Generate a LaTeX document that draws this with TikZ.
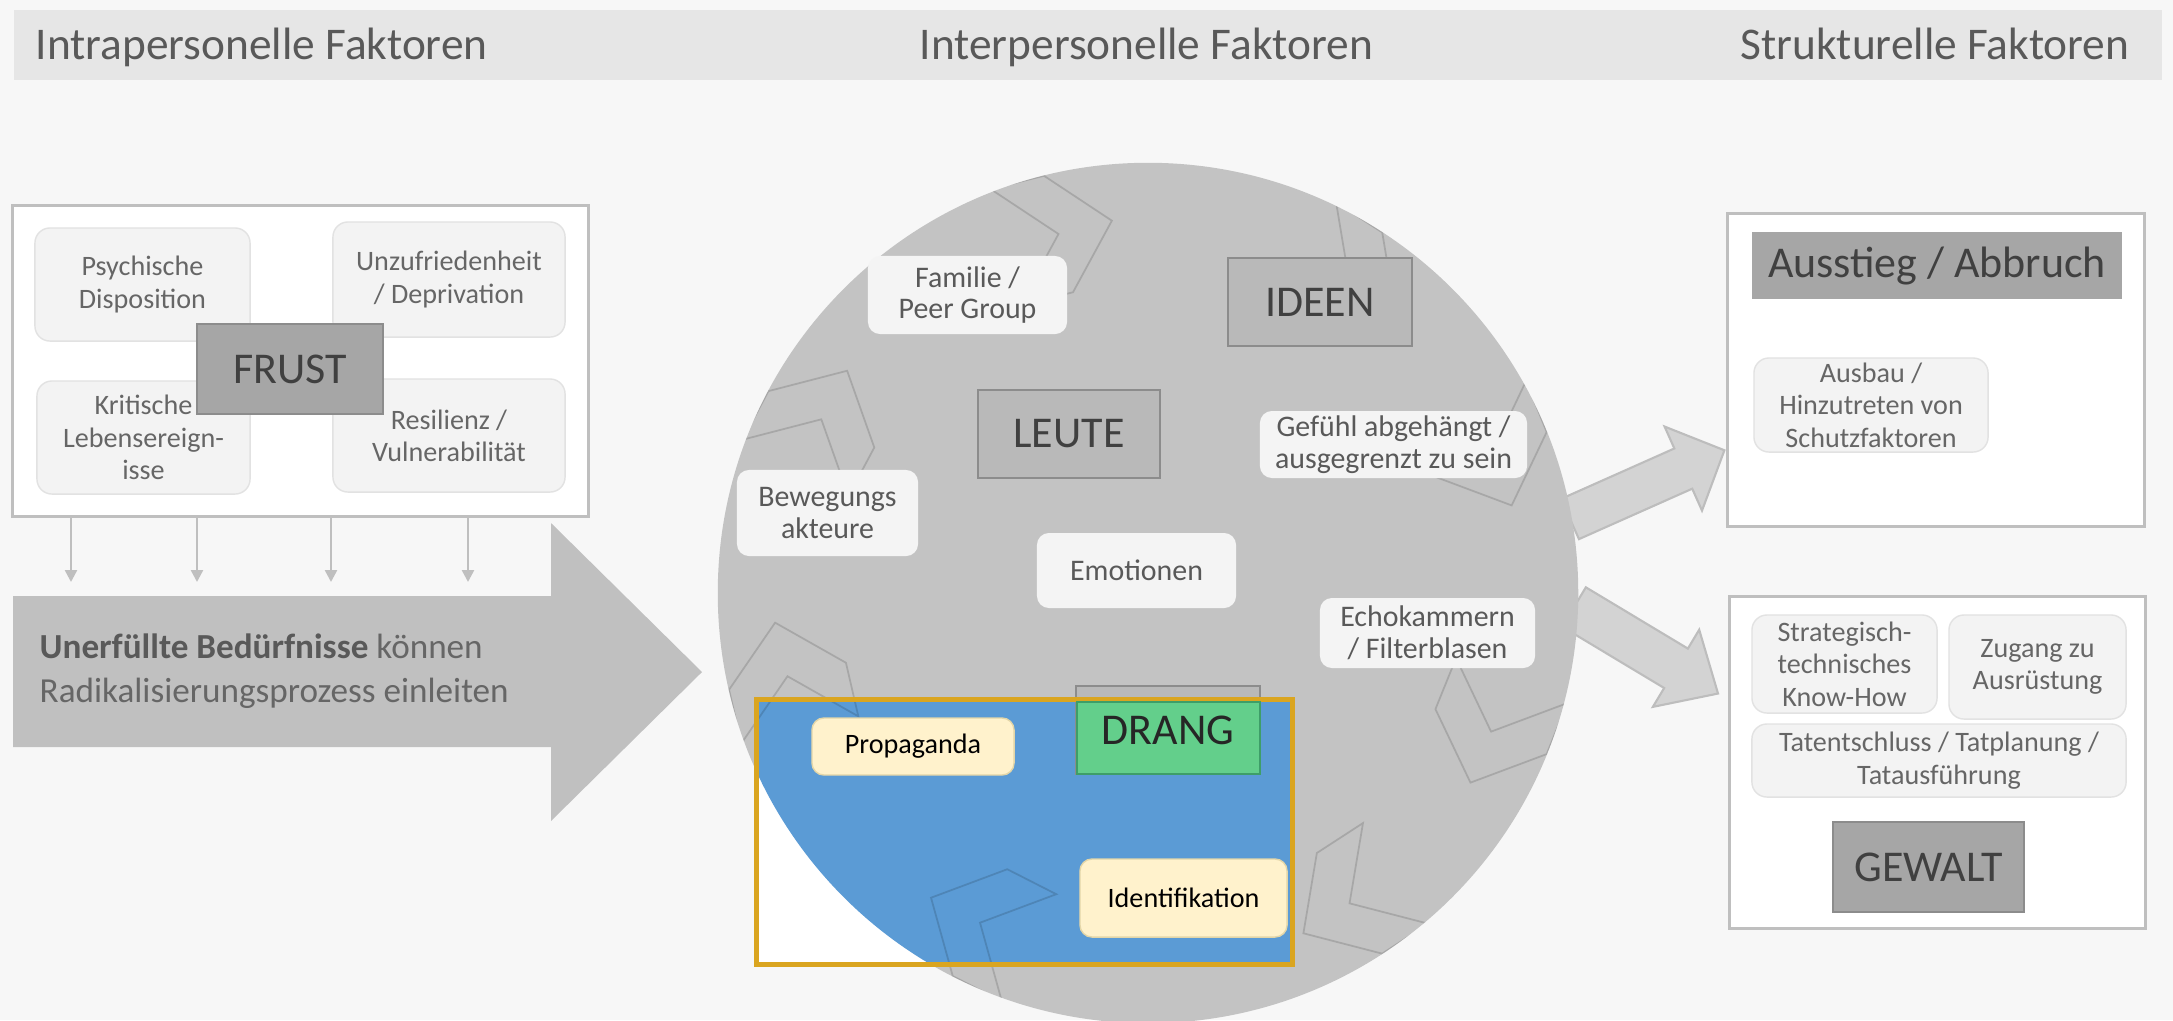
\documentclass[tikz,border=0pt]{standalone}
\usepackage{fontspec}
\setmainfont{Carlito}
\usetikzlibrary{arrows.meta}

\definecolor{bggray}{HTML}{F7F7F7}
\definecolor{bandgray}{HTML}{E6E6E6}
\definecolor{txtgray}{HTML}{595959}
\definecolor{framegray}{HTML}{BFBFBF}
\definecolor{softfill}{HTML}{F3F3F3}
\definecolor{softline}{HTML}{E2E2E2}
\definecolor{softtext}{HTML}{666666}
\definecolor{titlefill}{HTML}{A6A6A6}
\definecolor{titleline}{HTML}{8C8C8C}
\definecolor{titletext}{HTML}{404040}
\definecolor{ringgray}{HTML}{C3C3C3}
\definecolor{ringtitle}{HTML}{B9B9B9}
\definecolor{ringfill}{HTML}{F4F4F4}
\definecolor{arrowgray}{HTML}{C0C0C0}
\definecolor{sidefill}{HTML}{D3D3D3}
\definecolor{sideline}{HTML}{BDBDBD}
\definecolor{focusblue}{HTML}{5B9BD5}
\definecolor{focusframe}{HTML}{DAA520}
\definecolor{dranggreen}{HTML}{63CF8B}
\definecolor{drangline}{HTML}{3E9E68}
\definecolor{creamfill}{HTML}{FFF2CC}
\definecolor{creamline}{HTML}{E3D6A8}

\tikzset{
  headtext/.style={text=txtgray, font=\fontsize{12.9}{15}\selectfont, inner sep=0pt},
  framebox/.style={draw=framegray, line width=0.85pt, fill=white, inner sep=0pt},
  softbox/.style={draw=softline, fill=softfill, line width=0.4pt, rounded corners=0.15cm,
    align=center, text=softtext, font=\fontsize{8}{9.2}\selectfont, inner sep=0pt},
  titlebox/.style={draw=titleline, fill=titlefill, line width=0.5pt, text=titletext,
    font=\fontsize{12.5}{15}\selectfont, inner sep=0pt},
  ringbox/.style={fill=ringfill, rounded corners=0.12cm, align=center, text=txtgray,
    font=\fontsize{8.5}{9}\selectfont, inner sep=0pt},
  creambox/.style={draw=creamline, fill=creamfill, line width=0.4pt, rounded corners=0.12cm,
    text=black, font=\fontsize{8}{9.2}\selectfont, inner sep=0pt},
  chevronline/.style={draw=black, draw opacity=0.14, line width=0.5pt},
  downarrow/.style={draw=framegray, line width=0.7pt, -{Triangle[length=0.12cm,width=0.12cm]}},
  bigarrow/.style={fill=arrowgray},
  sidearrow/.style={fill=sidefill, draw=sideline, line width=0.6pt}
}

\begin{document}
\begin{tikzpicture}[x=0.01cm, y=-0.01cm]
  \useasboundingbox (0,0) rectangle (2173,1020);
  \fill[bggray] (0,0) rectangle (2173,1020);
  % header band
  \fill[bandgray] (14,10) rectangle (2162,80);
  \node[headtext, anchor=base west] (intrahead) at (35,59) {Intrapersonelle Faktoren};
  \node[headtext, anchor=base west] (interhead) at (919,59) {Interpersonelle Faktoren};
  \node[headtext, anchor=base east] (strukhead) at (2130,59) {Strukturelle Faktoren};
  % intrapersonal block
  \node[framebox, minimum width=5.75cm, minimum height=3.10cm] (intra) at (300.5,361) {};
  \node[softbox, minimum width=2.15cm, minimum height=1.13cm] (psych) at (142.5,284.5) {Psychische\\Disposition};
  \node[softbox, minimum width=2.32cm, minimum height=1.15cm] (unzuf) at (449,279.5) {Unzufriedenheit\\/ Deprivation};
  \node[softbox, minimum width=2.13cm, minimum height=1.13cm] (krit) at (143.5,437.5) {Kritische\\Lebensereign-\\isse};
  \node[softbox, minimum width=2.32cm, minimum height=1.13cm] (resil) at (449,435.5) {Resilienz /\\Vulnerabilität};
  \node[titlebox, minimum width=1.86cm, minimum height=0.90cm] (frust) at (290,369) {FRUST};
  \foreach \x [count=\i] in {71,197,331,468} {
    \coordinate (pfeil\i) at (\x,582);
    \draw[downarrow] (intra.south -| pfeil\i) -- (pfeil\i);
  }
  % big arrow
  \fill[bigarrow] (13,596) -- (551,596) -- (551,523) -- (702,672) -- (551,821) -- (551,747) -- (13,747) -- cycle;
  \node[anchor=west, align=left, inner sep=0pt, text=softtext, font=\fontsize{10}{12.5}\selectfont] (beduerf) at (39,671)
    {\textcolor{txtgray}{\textbf{Unerfüllte Bedürfnisse}} können\\Radikalisierungsprozess einleiten};
  % arrows to the right
  \filldraw[sidearrow, shift={(1570,519)}, rotate=24]
    (0,-22) -- (124,-22) -- (124,-46) -- (169,0) -- (124,46) -- (124,22) -- (0,22) -- cycle;
  \filldraw[sidearrow, shift={(1574,607)}, rotate=-31]
    (0,-23) -- (119,-23) -- (119,-45) -- (168,0) -- (119,45) -- (119,23) -- (0,23) -- cycle;
  % interpersonal circle
  \node[circle, fill=ringgray, minimum size=8.6cm, inner sep=0pt] (ring) at (1148,593) {};
  \node[fill=white, minimum width=5.35cm, minimum height=2.64cm, inner sep=0pt] (fokus) at (1024.5,832) {};
  \begin{scope}
    \clip (ring.center) circle[radius=4.3cm];
    \fill[focusblue] (fokus.north west) rectangle (fokus.south east);
    \foreach \a in {104,57,22,-22,-57,-117,-167,152}
      \draw[chevronline, shift={({1148+370*cos(\a)},{593-370*sin(\a)})}, rotate=\a-90]
        (-55,-60) -- (0,-60) -- (55,0) -- (0,60) -- (-55,60) -- (0,0) -- cycle;
  \end{scope}
  \node[ringbox, minimum width=1.99cm, minimum height=0.78cm] (familie) at (967.5,295) {Familie /\\Peer Group};
  \node[titlebox, fill=ringtitle, minimum width=1.84cm, minimum height=0.88cm] (ideen) at (1320,302) {IDEEN};
  \node[titlebox, fill=ringtitle, minimum width=1.82cm, minimum height=0.88cm] (leute) at (1069,434) {LEUTE};
  \node[ringbox, minimum width=2.67cm, minimum height=0.67cm] (gefuehl) at (1393.5,444.5) {Gefühl abgehängt /\\ausgegrenzt zu sein};
  \node[ringbox, minimum width=1.81cm, minimum height=0.86cm] (bewegung) at (827.5,513) {Bewegungs\\akteure};
  \node[ringbox, minimum width=1.99cm, minimum height=0.75cm] (emotion) at (1136.5,570.5) {Emotionen};
  \node[ringbox, minimum width=2.15cm, minimum height=0.70cm] (echo) at (1427.5,633) {Echokammern\\/ Filterblasen};
  % highlighted part
  \node[titlebox, fill=ringtitle, minimum width=1.84cm, minimum height=0.88cm] (drangalt) at (1168,730) {};
  \draw[focusframe, line width=1.4pt] (fokus.north west) rectangle (fokus.south east);
  \node[fill=dranggreen, draw=drangline, line width=0.4pt, minimum width=1.83cm, minimum height=0.72cm, inner sep=0pt] (drang) at (1168.5,738) {};
  \node[inner sep=0pt, text=black!85, font=\fontsize{12.5}{15}\selectfont] (drangtext) at (drangalt.center) {DRANG};
  \node[creambox, minimum width=2.02cm, minimum height=0.57cm] (propaganda) at (913,746.5) {Propaganda};
  \node[creambox, minimum width=2.07cm, minimum height=0.78cm] (ident) at (1183.5,898) {Identifikation};
  % structural block
  \node[framebox, minimum width=4.16cm, minimum height=3.12cm] (ausstiegbox) at (1936,370) {};
  \node[fill=titlefill, minimum width=3.70cm, minimum height=0.67cm, inner sep=0pt, text=titletext,
    font=\fontsize{12.5}{15}\selectfont] (ausstieg) at (1937,265.5) {Ausstieg / Abbruch};
  \node[softbox, minimum width=2.34cm, minimum height=0.94cm] (ausbau) at (1871,405) {Ausbau /\\Hinzutreten von\\Schutzfaktoren};
  \node[framebox, minimum width=4.15cm, minimum height=3.31cm] (gewaltbox) at (1937.5,762.5) {};
  \node[softbox, minimum width=1.85cm, minimum height=0.98cm] (knowhow) at (1844.5,664) {Strategisch-\\technisches\\Know-How};
  \node[softbox, minimum width=1.77cm, minimum height=1.04cm] (zugang) at (2037.5,667) {Zugang zu\\Ausrüstung};
  \node[softbox, minimum width=3.74cm, minimum height=0.73cm] (tat) at (1939,760.5) {Tatentschluss / Tatplanung /\\Tatausführung};
  \node[titlebox, minimum width=1.91cm, minimum height=0.90cm] (gewalt) at (1928.5,867) {GEWALT};
\end{tikzpicture}
\end{document}
